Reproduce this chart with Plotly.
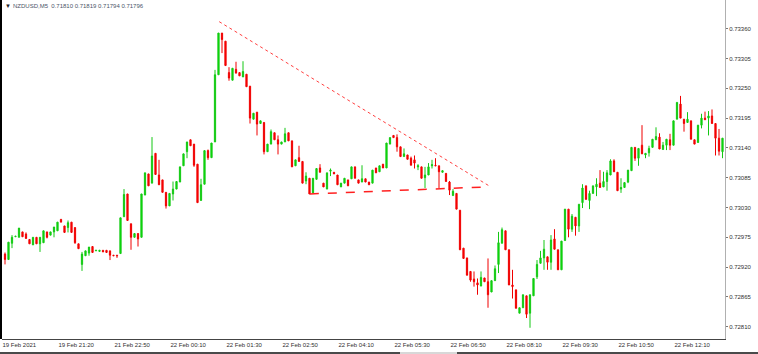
import plotly.graph_objects as go

# ---- data (NZDUSD M5 candles) ----
opens = [0.72944,0.72934,0.72964,0.72976,0.72975,0.72985,0.72981,0.72971,0.72961,0.72975,
0.72963,0.72965,0.72985,0.72979,0.72985,0.72987,0.73008,0.72996,0.72993,0.73003,
0.72993,0.72963,0.72925,0.72941,0.72946,0.72958,0.72950,0.72949,0.72951,0.72951,
0.72950,0.72942,0.72942,0.72945,0.73013,0.73055,0.73000,0.72975,0.72982,0.72975,
0.73053,0.73092,0.73075,0.73130,0.73090,0.73081,0.73058,0.73033,0.73055,0.73064,
0.73077,0.73107,0.73133,0.73155,0.73147,0.73110,0.73043,0.73073,0.73135,0.73122,
0.73151,0.73275,0.73352,0.73337,0.73279,0.73265,0.73285,0.73279,0.73271,0.73276,
0.73254,0.73193,0.73206,0.73185,0.73187,0.73133,0.73147,0.73168,0.73155,0.73147,
0.73151,0.73168,0.73153,0.73107,0.73122,0.73115,0.73079,0.73084,0.73057,0.73082,
0.73103,0.73075,0.73064,0.73097,0.73095,0.73090,0.73068,0.73075,0.73081,0.73083,
0.73105,0.73081,0.73077,0.73083,0.73077,0.73075,0.73103,0.73096,0.73110,0.73103,
0.73147,0.73163,0.73159,0.73142,0.73124,0.73127,0.73121,0.73118,0.73105,0.73105,
0.73085,0.73090,0.73107,0.73108,0.73107,0.73095,0.73093,0.73077,0.73052,0.73056,
0.73025,0.72955,0.72937,0.72912,0.72898,0.72891,0.72885,0.72900,0.72893,0.72874,
0.72895,0.72925,0.72964,0.72987,0.72952,0.72887,0.72878,0.72835,0.72845,0.72867,
0.72835,0.72867,0.72902,0.72927,0.72937,0.72939,0.72929,0.72972,0.72952,0.72915,
0.72969,0.73027,0.72990,0.73012,0.72996,0.73039,0.73070,0.73043,0.73056,0.73068,
0.73075,0.73068,0.73078,0.73090,0.73116,0.73095,0.73064,0.73067,0.73077,0.73098,
0.73141,0.73121,0.73145,0.73127,0.73131,0.73141,0.73155,0.73160,0.73137,0.73145,
0.73155,0.73145,0.73193,0.73221,0.73193,0.73187,0.73190,0.73155,0.73150,0.73182,
0.73195,0.73195,0.73199,0.73185,0.73158,0.73133]
highs = [0.72947,0.72966,0.72979,0.72977,0.72992,0.72985,0.72984,0.72971,0.72975,0.72975,
0.72975,0.72987,0.72985,0.72985,0.72994,0.73003,0.73009,0.72996,0.73006,0.73003,
0.72993,0.72963,0.72948,0.72950,0.72957,0.72958,0.72951,0.72951,0.72951,0.72951,
0.72950,0.72942,0.72942,0.73011,0.73064,0.73055,0.73000,0.72982,0.72982,0.73055,
0.73094,0.73092,0.73160,0.73130,0.73118,0.73081,0.73058,0.73056,0.73078,0.73078,
0.73105,0.73129,0.73151,0.73155,0.73147,0.73110,0.73083,0.73135,0.73137,0.73149,
0.73284,0.73352,0.73352,0.73337,0.73289,0.73287,0.73299,0.73279,0.73300,0.73276,
0.73254,0.73204,0.73206,0.73190,0.73187,0.73147,0.73174,0.73168,0.73163,0.73151,
0.73177,0.73168,0.73153,0.73118,0.73144,0.73115,0.73095,0.73084,0.73084,0.73102,
0.73110,0.73075,0.73094,0.73102,0.73095,0.73090,0.73075,0.73084,0.73081,0.73105,
0.73105,0.73081,0.73108,0.73083,0.73077,0.73099,0.73103,0.73107,0.73110,0.73149,
0.73159,0.73163,0.73165,0.73142,0.73139,0.73127,0.73124,0.73126,0.73110,0.73105,
0.73105,0.73112,0.73118,0.73121,0.73107,0.73098,0.73093,0.73079,0.73064,0.73056,
0.73025,0.72955,0.72937,0.72912,0.72912,0.72899,0.72912,0.72900,0.72936,0.72895,
0.72923,0.72985,0.72993,0.72987,0.72952,0.72915,0.72878,0.72845,0.72869,0.72867,
0.72869,0.72899,0.72933,0.72950,0.72970,0.72939,0.72979,0.72990,0.72952,0.72968,
0.73027,0.73027,0.73018,0.73012,0.73036,0.73073,0.73070,0.73061,0.73070,0.73084,
0.73099,0.73096,0.73099,0.73119,0.73119,0.73095,0.73084,0.73076,0.73099,0.73141,
0.73141,0.73139,0.73182,0.73130,0.73144,0.73156,0.73178,0.73167,0.73151,0.73156,
0.73166,0.73190,0.73224,0.73236,0.73193,0.73206,0.73190,0.73155,0.73182,0.73203,
0.73207,0.73208,0.73211,0.73185,0.73175,0.73158]
lows = [0.72925,0.72934,0.72955,0.72976,0.72975,0.72976,0.72972,0.72963,0.72961,0.72963,
0.72948,0.72965,0.72973,0.72979,0.72975,0.72987,0.73003,0.72984,0.72984,0.72984,
0.72963,0.72954,0.72913,0.72941,0.72941,0.72947,0.72950,0.72949,0.72948,0.72947,
0.72933,0.72941,0.72937,0.72945,0.73013,0.73006,0.72952,0.72975,0.72958,0.72975,
0.73053,0.73070,0.73075,0.73091,0.73072,0.73058,0.73028,0.73033,0.73043,0.73064,
0.73077,0.73107,0.73121,0.73144,0.73105,0.73039,0.73043,0.73073,0.73118,0.73122,
0.73151,0.73275,0.73315,0.73292,0.73264,0.73265,0.73278,0.73273,0.73271,0.73253,
0.73185,0.73193,0.73163,0.73185,0.73128,0.73133,0.73147,0.73155,0.73128,0.73147,
0.73151,0.73153,0.73105,0.73107,0.73115,0.73075,0.73073,0.73055,0.73057,0.73082,
0.73095,0.73068,0.73064,0.73088,0.73092,0.73072,0.73068,0.73075,0.73070,0.73083,
0.73084,0.73075,0.73077,0.73077,0.73072,0.73075,0.73094,0.73096,0.73103,0.73103,
0.73147,0.73159,0.73133,0.73124,0.73124,0.73119,0.73108,0.73102,0.73099,0.73084,
0.73066,0.73090,0.73102,0.73107,0.73066,0.73095,0.73078,0.73053,0.73052,0.73027,
0.72952,0.72936,0.72905,0.72893,0.72884,0.72869,0.72885,0.72893,0.72845,0.72874,
0.72895,0.72909,0.72964,0.72952,0.72887,0.72862,0.72844,0.72835,0.72845,0.72826,
0.72808,0.72867,0.72898,0.72927,0.72915,0.72915,0.72915,0.72953,0.72915,0.72915,
0.72969,0.72975,0.72985,0.72978,0.72985,0.73029,0.73045,0.73027,0.73056,0.73051,
0.73067,0.73068,0.73061,0.73090,0.73096,0.73061,0.73057,0.73067,0.73075,0.73098,
0.73116,0.73107,0.73129,0.73121,0.73124,0.73141,0.73155,0.73138,0.73137,0.73136,
0.73136,0.73145,0.73193,0.73195,0.73170,0.73187,0.73156,0.73147,0.73150,0.73176,
0.73192,0.73163,0.73185,0.73126,0.73126,0.73121]
closes = [0.72934,0.72966,0.72975,0.72977,0.72992,0.72976,0.72973,0.72963,0.72975,0.72963,
0.72975,0.72987,0.72975,0.72985,0.72994,0.73003,0.73003,0.72984,0.73002,0.72984,
0.72965,0.72954,0.72944,0.72950,0.72957,0.72947,0.72951,0.72951,0.72948,0.72947,
0.72942,0.72941,0.72941,0.73011,0.73054,0.73006,0.72975,0.72982,0.72972,0.73055,
0.73094,0.73070,0.73125,0.73091,0.73072,0.73058,0.73033,0.73056,0.73064,0.73078,
0.73105,0.73129,0.73151,0.73144,0.73108,0.73039,0.73072,0.73135,0.73122,0.73149,
0.73275,0.73352,0.73340,0.73292,0.73269,0.73287,0.73278,0.73273,0.73281,0.73253,
0.73195,0.73204,0.73184,0.73190,0.73133,0.73147,0.73170,0.73155,0.73147,0.73151,
0.73166,0.73153,0.73105,0.73118,0.73115,0.73075,0.73088,0.73055,0.73084,0.73102,
0.73095,0.73068,0.73094,0.73099,0.73092,0.73072,0.73075,0.73084,0.73070,0.73105,
0.73084,0.73075,0.73083,0.73077,0.73072,0.73099,0.73094,0.73107,0.73103,0.73149,
0.73159,0.73159,0.73142,0.73124,0.73129,0.73119,0.73108,0.73112,0.73107,0.73084,
0.73090,0.73105,0.73109,0.73107,0.73096,0.73098,0.73078,0.73062,0.73060,0.73027,
0.72952,0.72936,0.72905,0.72896,0.72893,0.72887,0.72901,0.72893,0.72869,0.72895,
0.72917,0.72965,0.72989,0.72952,0.72887,0.72884,0.72844,0.72845,0.72869,0.72833,
0.72869,0.72899,0.72925,0.72937,0.72953,0.72929,0.72970,0.72953,0.72915,0.72968,
0.73027,0.72990,0.73014,0.72996,0.73036,0.73066,0.73045,0.73056,0.73070,0.73073,
0.73067,0.73078,0.73094,0.73116,0.73096,0.73061,0.73067,0.73076,0.73099,0.73141,
0.73121,0.73139,0.73129,0.73130,0.73139,0.73156,0.73161,0.73138,0.73145,0.73156,
0.73145,0.73190,0.73224,0.73195,0.73185,0.73193,0.73156,0.73147,0.73182,0.73195,
0.73192,0.73199,0.73185,0.73158,0.73134,0.73158]

x_labels = ["19 Feb 2021", "19 Feb 21:20", "21 Feb 22:50", "22 Feb 00:10", "22 Feb 01:30",
            "22 Feb 02:50", "22 Feb 04:10", "22 Feb 05:30", "22 Feb 06:50", "22 Feb 08:10",
            "22 Feb 09:30", "22 Feb 10:50", "22 Feb 12:10"]
bars_per_label = 16
y_labels = ["0.73360", "0.73305", "0.73250", "0.73195", "0.73140", "0.73085",
            "0.73030", "0.72975", "0.72920", "0.72865", "0.72810"]

header = "NZDUSD,M5  0.71810 0.71819 0.71794 0.71796"

# trend lines drawn on the chart (bar index, price)
trend_x = [61.2, 138.3]
trend_y = [0.73373, 0.73070]
support_x = [87.1, 137.4]
support_y = [0.73055, 0.73068]

# ---- figure ----
W, H = 758, 354
ML, MR, MT, MB = 2, 33, 0, 15
PW, PH = W - ML - MR, H - MT - MB

def px_x(x):
    return (x - ML) / PW

def px_y(y):
    return 1 - (y - MT) / PH

idx = list(range(len(opens)))

fig = go.Figure()
fig.add_trace(go.Candlestick(
    x=idx, open=opens, high=highs, low=lows, close=closes,
    increasing=dict(line=dict(color="#14c814", width=1), fillcolor="#00e600"),
    decreasing=dict(line=dict(color="#f00000", width=1), fillcolor="#ff0000"),
    whiskerwidth=0, showlegend=False, hoverinfo="skip"))
fig.add_trace(go.Scatter(x=trend_x, y=trend_y, mode="lines",
                         line=dict(color="#ff4040", width=1, dash="dot"),
                         showlegend=False, hoverinfo="skip"))
fig.add_trace(go.Scatter(x=support_x, y=support_y, mode="lines",
                         line=dict(color="#ff2020", width=1.5, dash="dash"),
                         showlegend=False, hoverinfo="skip"))

y_vals = [float(v) for v in y_labels]

fig.update_layout(
    width=W, height=H,
    margin=dict(l=ML, r=MR, t=MT, b=MB, pad=0),
    paper_bgcolor="white", plot_bgcolor="white",
    boxgap=0.5,
    font=dict(family="Liberation Sans, Arial, sans-serif", size=6, color="#303030"),
    xaxis=dict(
        range=[-0.857, 205.714], rangeslider=dict(visible=False),
        showgrid=False, zeroline=False,
        tickvals=[k * bars_per_label - 0.86 for k in range(len(x_labels))],
        ticktext=x_labels, ticklabelposition="outside right",
        ticks="", showline=True, linecolor="#444", linewidth=1,
        tickfont=dict(size=6, color="#303030"),
    ),
    yaxis=dict(
        side="right", range=[0.727873, 0.734130],
        tickvals=y_vals, ticktext=y_labels,
        ticks="outside", ticklen=2, tickcolor="#777", tickwidth=1,
        showgrid=False, zeroline=False,
        showline=True, linecolor="#b0b0b0", linewidth=1,
        tickfont=dict(size=6, color="#303030"),
    ),
    shapes=[
        dict(type="line", xref="paper", yref="paper", x0=px_x(1), x1=px_x(1),
             y0=0, y1=1, line=dict(color="black", width=2)),
        dict(type="rect", xref="paper", yref="paper", x0=px_x(0), x1=px_x(W),
             y0=px_y(352), y1=px_y(354), line=dict(width=0), fillcolor="#4a4a4a"),
        dict(type="rect", xref="paper", yref="paper", x0=px_x(400), x1=px_x(457),
             y0=px_y(352), y1=px_y(354), line=dict(width=0), fillcolor="#d8d8d8"),
    ],
    annotations=[
        dict(text="▼", xref="paper", yref="paper", x=px_x(3), y=px_y(6),
             xanchor="left", yanchor="middle", showarrow=False,
             font=dict(size=6, color="#222")),
        dict(text=header, xref="paper", yref="paper", x=px_x(11), y=px_y(6),
             xanchor="left", yanchor="middle", showarrow=False,
             font=dict(size=6, color="#4a5568")),
    ],
)

fig.write_html("out.html")
